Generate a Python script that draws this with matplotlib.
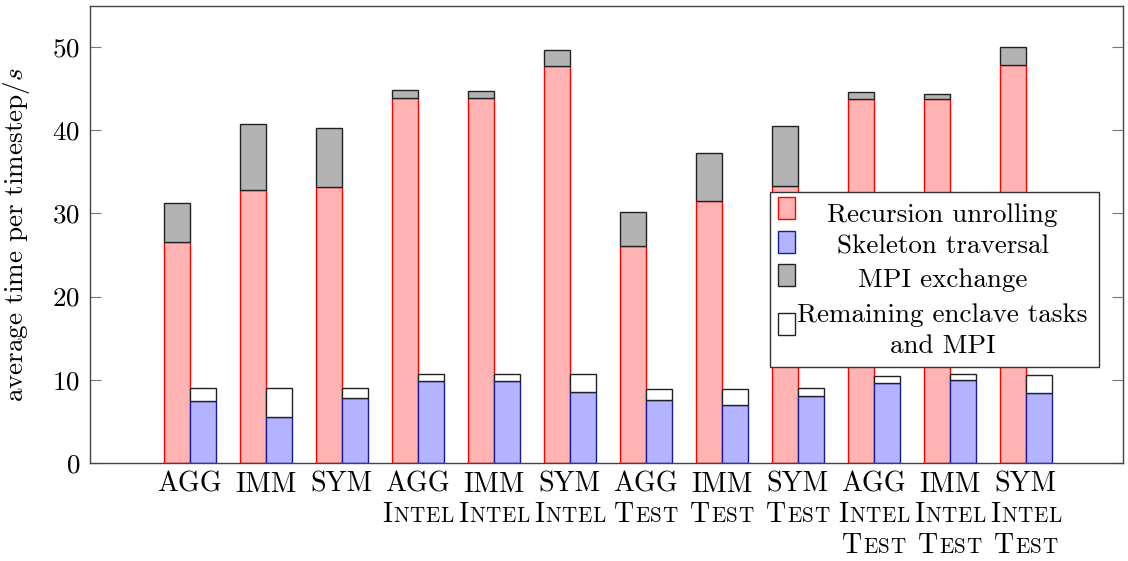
import numpy as np
import matplotlib
matplotlib.use('Agg')
from matplotlib import pyplot as plt
from matplotlib.patches import Rectangle
from matplotlib.font_manager import FontProperties
from matplotlib.textpath import TextToPath

plt.rcParams['font.family'] = 'cmr10'
plt.rcParams['mathtext.fontset'] = 'cm'
plt.rcParams['axes.formatter.use_mathtext'] = True

# one entry per configuration, bottom to top of each stack
variants = ['AGG', 'IMM', 'SYM'] * 4
machine = ['', '', '', 'Intel', 'Intel', 'Intel', '', '', '', 'Intel', 'Intel', 'Intel']
mode = ['', '', '', '', '', '', 'Test', 'Test', 'Test', 'Test', 'Test', 'Test']

recursion = [26.5, 32.85, 33.2, 43.9, 43.9, 47.7, 26.1, 31.45, 33.25, 43.7, 43.77, 47.78]
mpi_exchange = [4.75, 7.85, 7.1, 0.9, 0.75, 1.9, 4.1, 5.85, 7.25, 0.85, 0.55, 2.15]
skeleton = [7.4, 5.47, 7.8, 9.84, 9.84, 8.52, 7.52, 6.96, 8.0, 9.6, 9.96, 8.4]
remaining = [1.55, 3.5, 1.15, 0.8, 0.85, 2.15, 1.4, 1.95, 0.95, 0.9, 0.7, 2.2]

labels = ['Recursion unrolling', 'Skeleton traversal', 'MPI exchange',
          'Remaining enclave tasks\nand MPI']

FS = 19.5
x = np.arange(len(variants))
w = 0.34

fig = plt.figure(figsize=(11.28, 5.61), dpi=100)
ax = fig.add_axes([90 / 1128, 98 / 561, 1033 / 1128, 457 / 561])

ax.bar(x - w / 2, recursion, w, color='#ffb3b3', edgecolor='red', linewidth=1)
ax.bar(x - w / 2, mpi_exchange, w, bottom=recursion, color='#b3b3b3', edgecolor='#222222', linewidth=1)
ax.bar(x + w / 2, skeleton, w, color='#b3b3ff', edgecolor='#1a1aa0', linewidth=1)
ax.bar(x + w / 2, remaining, w, bottom=skeleton, color='white', edgecolor='#222222', linewidth=1)

ax.set_xlim(-1.312, 12.28)
ax.set_ylim(0, 54.9)
ax.set_yticks([0, 10, 20, 30, 40, 50])
ax.set_xticks(x)
ax.set_xticklabels([])
ax.tick_params(axis='x', length=0)
ax.tick_params(axis='y', direction='in', left=True, right=True, length=8,
               width=0.8, color='#777777', labelsize=FS, pad=7)
for sp in ax.spines.values():
    sp.set_color('#444444')
    sp.set_linewidth(1.0)

ax.set_ylabel('average time per timestep/$s$', fontsize=FS)
ax.yaxis.set_label_coords(-0.056, 0.5)

# tick labels: first line normal, further lines in small caps
t2p = TextToPath()
big = FontProperties(family='cmr10', size=FS * 1.03)
small = FontProperties(family='cmr10', size=FS * 0.78)
track = 0.35  # extra spacing between small-caps letters, points


def width_pt(s, prop):
    return t2p.get_text_width_height_descent(s, prop, ismath=False)[0]


def smallcaps(xpos, ybase, word):
    glyphs = [(word[0], big)] + [(c, small) for c in word[1:].upper()]
    widths = [width_pt(c, p) for c, p in glyphs]
    total = sum(widths) + track * (len(glyphs) - 1)
    cur = -total / 2
    for (c, p), wd in zip(glyphs, widths):
        ax.annotate(c, xy=(xpos, 0), xycoords=('data', 'axes fraction'),
                    xytext=(cur, ybase), textcoords='offset points',
                    fontproperties=p, ha='left', va='baseline')
        cur += wd + track


px2pt = 0.72
for i in x:
    ax.annotate(variants[i], xy=(i, 0), xycoords=('data', 'axes fraction'),
                xytext=(0, -28.7 * px2pt), textcoords='offset points',
                fontsize=FS * 1.03, ha='center', va='baseline')
    extra = [s for s in (machine[i], mode[i]) if s]
    for k, word in enumerate(extra):
        smallcaps(i, -(58.7 + 31.3 * k) * px2pt, word)

# legend box
ax.add_patch(Rectangle((0.658, 0.210), 0.319, 0.384, transform=ax.transAxes,
                       facecolor='white', edgecolor='#333333', linewidth=1.0,
                       zorder=5, clip_on=False))
handles = [('#ffb3b3', 'red'), ('#b3b3ff', '#1a1aa0'), ('#b3b3b3', '#222222'), ('white', '#222222')]
patch_y = [0.5573, 0.4842, 0.4114, 0.3042]
for (fc, ec), yc in zip(handles, patch_y):
    ax.add_patch(Rectangle((0.6663, yc - 0.0237), 0.0162, 0.0475, transform=ax.transAxes,
                           facecolor=fc, edgecolor=ec, linewidth=1.0, zorder=6))
text_y = [0.528, 0.4589, 0.3858, 0.3092, 0.240]
lines = []
for lab in labels:
    lines.extend(lab.split('\n'))
for s, yb in zip(lines, text_y):
    ax.text(0.8254, yb, s, transform=ax.transAxes, fontsize=FS,
            ha='center', va='baseline', zorder=7)

fig.savefig('out.png', dpi=100)
